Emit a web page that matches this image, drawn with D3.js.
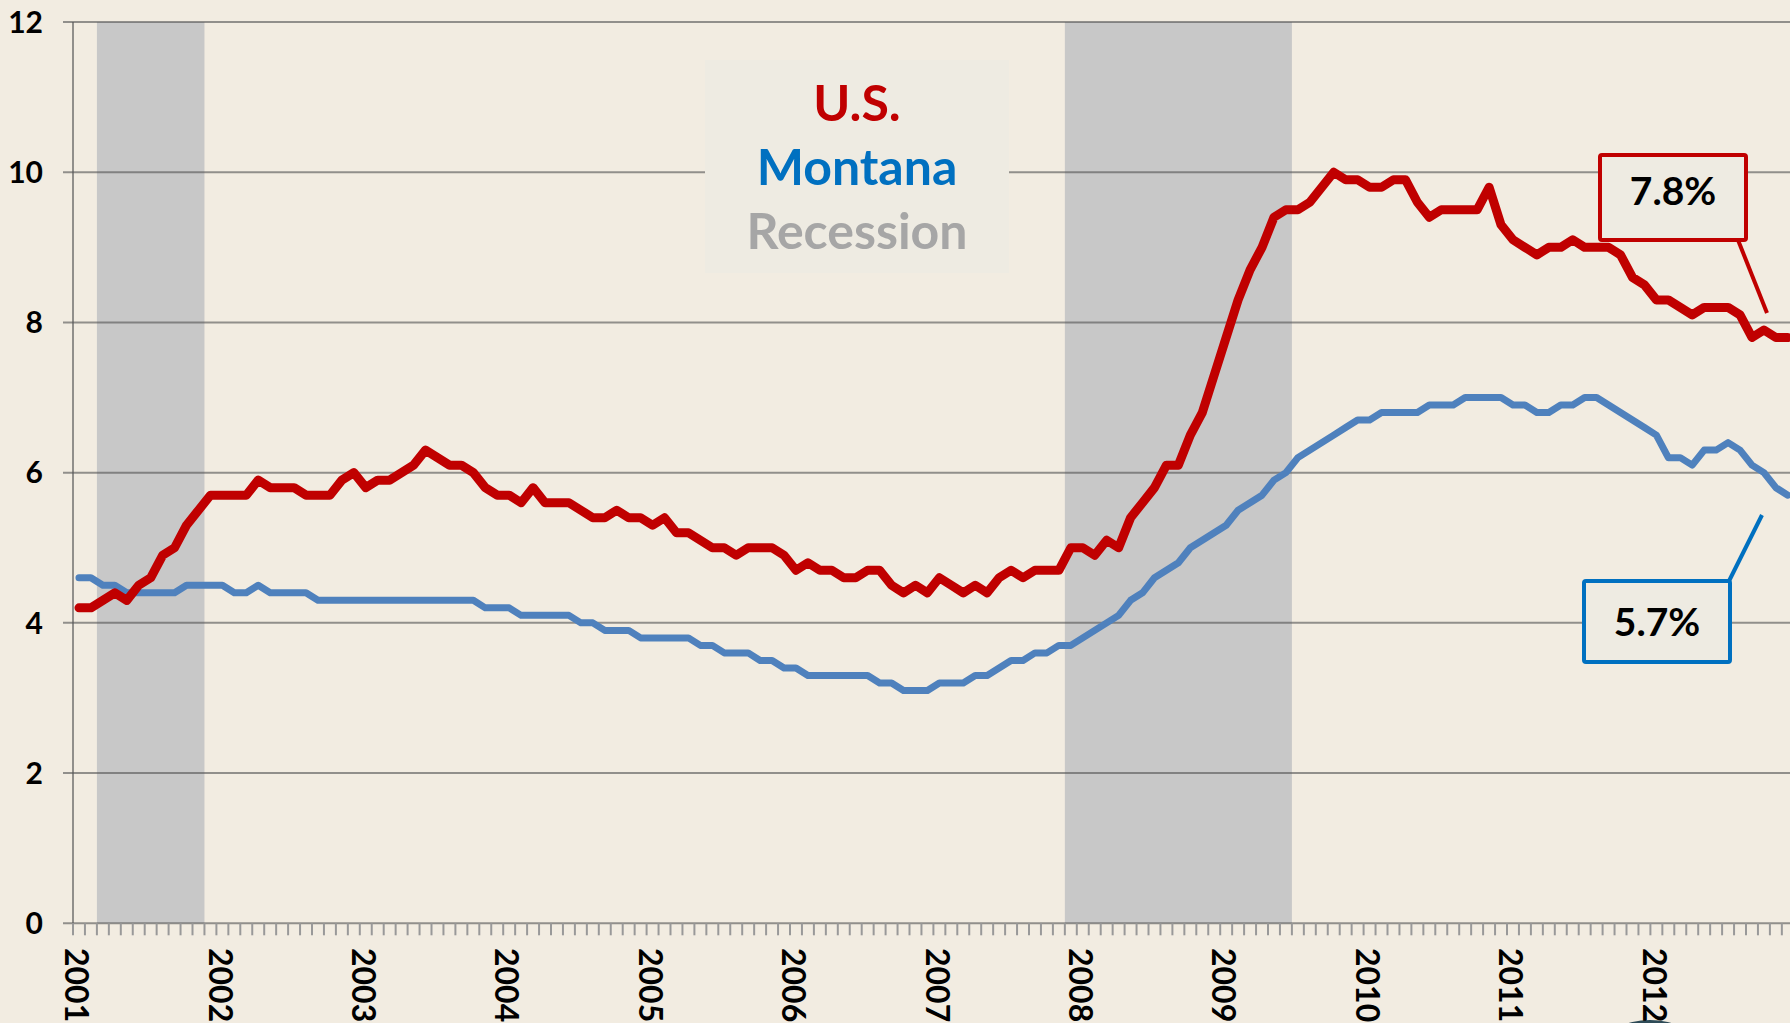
<!DOCTYPE html>
<html lang="en">

<head>
    <meta charset="UTF-8">
    <title>Unemployment Rate: U.S. vs Montana</title>
    <style>
        body {
            margin: 0;
            background-color: #F2ECE1;
        }

        #chart {
            display: block;
        }

        text {
            font-family: Lato, "Open Sans", "DejaVu Sans", sans-serif;
            font-weight: bold;
        }
    </style>
    <script src="https://d3js.org/d3.v7.min.js"></script>
</head>

<body>
    <svg id="chart" width="1790" height="1023"></svg>

    <script>
        // categories
        var yearLabels = ["2001", "2002", "2003", "2004", "2005", "2006", "2007", "2008", "2009", "2010", "2011", "2012"];
        var monthNames = ["Jan", "Feb", "Mar", "Apr", "May", "Jun", "Jul", "Aug", "Sep", "Oct", "Nov", "Dec"];
        var months = [];
        yearLabels.forEach(function (y) {
            monthNames.forEach(function (m) { months.push(m + " " + y); });
        });

        // monthly unemployment rate, %
        var usRate = [
            4.2, 4.2, 4.3, 4.4, 4.3, 4.5, 4.6, 4.9, 5.0, 5.3, 5.5, 5.7,
            5.7, 5.7, 5.7, 5.9, 5.8, 5.8, 5.8, 5.7, 5.7, 5.7, 5.9, 6.0,
            5.8, 5.9, 5.9, 6.0, 6.1, 6.3, 6.2, 6.1, 6.1, 6.0, 5.8, 5.7,
            5.7, 5.6, 5.8, 5.6, 5.6, 5.6, 5.5, 5.4, 5.4, 5.5, 5.4, 5.4,
            5.3, 5.4, 5.2, 5.2, 5.1, 5.0, 5.0, 4.9, 5.0, 5.0, 5.0, 4.9,
            4.7, 4.8, 4.7, 4.7, 4.6, 4.6, 4.7, 4.7, 4.5, 4.4, 4.5, 4.4,
            4.6, 4.5, 4.4, 4.5, 4.4, 4.6, 4.7, 4.6, 4.7, 4.7, 4.7, 5.0,
            5.0, 4.9, 5.1, 5.0, 5.4, 5.6, 5.8, 6.1, 6.1, 6.5, 6.8, 7.3,
            7.8, 8.3, 8.7, 9.0, 9.4, 9.5, 9.5, 9.6, 9.8, 10.0, 9.9, 9.9,
            9.8, 9.8, 9.9, 9.9, 9.6, 9.4, 9.5, 9.5, 9.5, 9.5, 9.8, 9.3,
            9.1, 9.0, 8.9, 9.0, 9.0, 9.1, 9.0, 9.0, 9.0, 8.9, 8.6, 8.5,
            8.3, 8.3, 8.2, 8.1, 8.2, 8.2, 8.2, 8.1, 7.8, 7.9, 7.8, 7.8
        ];
        var montanaRate = [
            4.6, 4.6, 4.5, 4.5, 4.4, 4.4, 4.4, 4.4, 4.4, 4.5, 4.5, 4.5,
            4.5, 4.4, 4.4, 4.5, 4.4, 4.4, 4.4, 4.4, 4.3, 4.3, 4.3, 4.3,
            4.3, 4.3, 4.3, 4.3, 4.3, 4.3, 4.3, 4.3, 4.3, 4.3, 4.2, 4.2,
            4.2, 4.1, 4.1, 4.1, 4.1, 4.1, 4.0, 4.0, 3.9, 3.9, 3.9, 3.8,
            3.8, 3.8, 3.8, 3.8, 3.7, 3.7, 3.6, 3.6, 3.6, 3.5, 3.5, 3.4,
            3.4, 3.3, 3.3, 3.3, 3.3, 3.3, 3.3, 3.2, 3.2, 3.1, 3.1, 3.1,
            3.2, 3.2, 3.2, 3.3, 3.3, 3.4, 3.5, 3.5, 3.6, 3.6, 3.7, 3.7,
            3.8, 3.9, 4.0, 4.1, 4.3, 4.4, 4.6, 4.7, 4.8, 5.0, 5.1, 5.2,
            5.3, 5.5, 5.6, 5.7, 5.9, 6.0, 6.2, 6.3, 6.4, 6.5, 6.6, 6.7,
            6.7, 6.8, 6.8, 6.8, 6.8, 6.9, 6.9, 6.9, 7.0, 7.0, 7.0, 7.0,
            6.9, 6.9, 6.8, 6.8, 6.9, 6.9, 7.0, 7.0, 6.9, 6.8, 6.7, 6.6,
            6.5, 6.2, 6.2, 6.1, 6.3, 6.3, 6.4, 6.3, 6.1, 6.0, 5.8, 5.7
        ];

        var recessions = [["Mar 2001", "Nov 2001"], ["Dec 2007", "Jun 2009"]];
        var yTicks = [0, 2, 4, 6, 8, 10, 12];
        var legendNames = ["U.S.", "Montana", "Recession"];
        var legendColors = ["#C00000", "#0070C0", "#A6A6A6"];

        var svg = d3.select("#chart"),
            width = 1790,
            plotLeft = 73,
            plotTop = 22,
            plotBottom = 923.3,
            step = 11.95;

        var x = d3.scalePoint()
            .domain(months)
            .range([plotLeft, plotLeft + months.length * step])
            .padding(0.5);

        var y = d3.scaleLinear()
            .domain([0, 12])
            .range([plotBottom, plotTop]);

        var gridColor = "rgba(85,85,85,0.62)";

        // edge of the logo peeking in at the bottom
        svg.append("ellipse")
            .attr("cx", 1650).attr("cy", 1046)
            .attr("rx", 46).attr("ry", 26)
            .style("fill", "#2E4B57");

        // recession bands
        svg.selectAll(".recession")
            .data(recessions)
            .enter()
            .append("rect")
            .attr("class", "recession")
            .attr("x", function (d) { return x(d[0]) - step / 2; })
            .attr("width", function (d) { return x(d[1]) - x(d[0]) + step; })
            .attr("y", y(12))
            .attr("height", y(0) - y(12))
            .style("fill", "#C8C8C8");

        // gridlines + y labels
        svg.selectAll(".grid")
            .data(yTicks)
            .enter()
            .append("line")
            .attr("class", "grid")
            .attr("x1", plotLeft - 10)
            .attr("x2", width)
            .attr("y1", function (d) { return y(d); })
            .attr("y2", function (d) { return y(d); })
            .style("stroke", gridColor)
            .style("stroke-width", 2);

        svg.selectAll(".ylabel")
            .data(yTicks)
            .enter()
            .append("text")
            .attr("class", "ylabel")
            .attr("x", 43)
            .attr("y", function (d) { return y(d); })
            .attr("dy", "0.36em")
            .attr("text-anchor", "end")
            .style("font-size", "30px")
            .style("fill", "#000")
            .text(function (d) { return d; });

        // y axis line
        svg.append("line")
            .attr("x1", plotLeft).attr("x2", plotLeft)
            .attr("y1", y(12)).attr("y2", y(0))
            .style("stroke", gridColor)
            .style("stroke-width", 2);

        // month ticks on the x axis
        var tickPos = months.map(function (m) { return x(m) - step / 2; });
        tickPos.push(x(months[months.length - 1]) + step / 2);
        svg.selectAll(".xtick")
            .data(tickPos)
            .enter()
            .append("line")
            .attr("class", "xtick")
            .attr("x1", function (d) { return d; })
            .attr("x2", function (d) { return d; })
            .attr("y1", y(0))
            .attr("y2", y(0) + 12)
            .style("stroke", "#999")
            .style("stroke-width", 2);

        svg.selectAll(".xlabel")
            .data(yearLabels)
            .enter()
            .append("text")
            .attr("class", "xlabel")
            .attr("transform", function (d) {
                return "translate(" + (x("Jan " + d) - 2.5) + ",948) rotate(90)";
            })
            .attr("dy", "0.35em")
            .style("font-size", "32px")
            .style("fill", "#000")
            .text(function (d) { return d; });

        // legend box
        var legend = svg.append("g");
        legend.append("rect")
            .attr("x", 705).attr("y", 60)
            .attr("width", 304).attr("height", 213)
            .style("fill", "#EEEBE2");
        legend.selectAll("text")
            .data(legendNames)
            .enter()
            .append("text")
            .attr("x", 857)
            .attr("y", function (d, i) { return 121 + i * 64; })
            .attr("text-anchor", "middle")
            .style("font-size", "50px")
            .style("fill", function (d, i) { return legendColors[i]; })
            .text(function (d) { return d; });

        // lines
        var line = d3.line()
            .x(function (d, i) { return x(months[i]); })
            .y(function (d) { return y(d); });

        svg.append("path")
            .datum(montanaRate)
            .attr("d", line)
            .style("fill", "none")
            .style("stroke", "#4F81BD")
            .style("stroke-width", 7)
            .style("stroke-linejoin", "round")
            .style("stroke-linecap", "round");

        svg.append("path")
            .datum(usRate)
            .attr("d", line)
            .style("fill", "none")
            .style("stroke", "#C00000")
            .style("stroke-width", 9)
            .style("stroke-linejoin", "round")
            .style("stroke-linecap", "round");

        // callouts for the latest values
        function callout(bx, by, bw, bh, color, label, ty, lx1, ly1, lx2, ly2) {
            svg.append("line")
                .attr("x1", lx1).attr("y1", ly1)
                .attr("x2", lx2).attr("y2", ly2)
                .style("stroke", color)
                .style("stroke-width", 4);
            svg.append("rect")
                .attr("x", bx).attr("y", by)
                .attr("width", bw).attr("height", bh)
                .attr("rx", 2)
                .style("fill", "#EEEBE2")
                .style("stroke", color)
                .style("stroke-width", 4);
            svg.append("text")
                .attr("x", bx + bw / 2)
                .attr("y", ty)
                .attr("dy", "0.36em")
                .attr("text-anchor", "middle")
                .style("font-size", "39px")
                .style("fill", "#000")
                .text(label);
        }

        var lastUS = usRate[usRate.length - 1],
            lastMT = montanaRate[montanaRate.length - 1];

        callout(1600, 155, 146, 85, "#C00000", lastUS.toFixed(1) + "%", 191, 1738, 240, 1767, 313);
        callout(1584, 581, 146, 81, "#0070C0", lastMT.toFixed(1) + "%", 622, 1728, 583, 1762, 515);
    </script>
</body>

</html>
